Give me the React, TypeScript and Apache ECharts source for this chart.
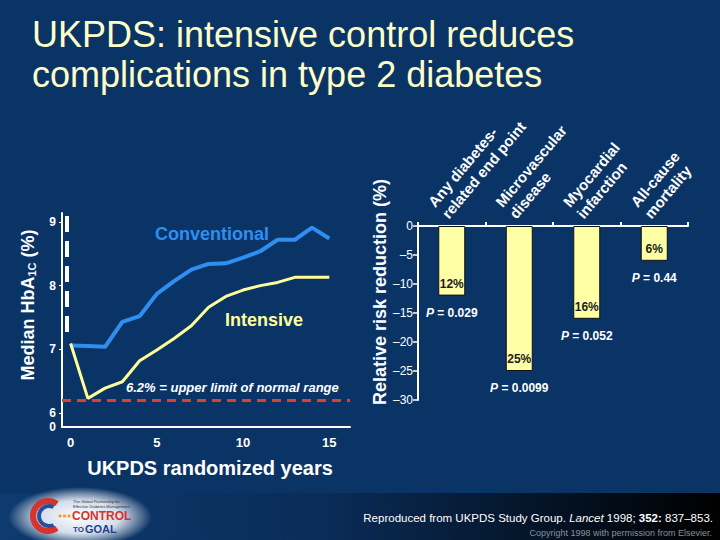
import React, { useEffect, useRef } from 'react';
import * as echarts from 'echarts';

// ---------- data ----------
const years = [0, 1, 2, 3, 4, 5, 6, 7, 8, 9, 10, 11, 12, 13, 14, 15];
const conventional = [7.06, 7.05, 7.04, 7.43, 7.52, 7.87, 8.07, 8.25, 8.34, 8.35, 8.44, 8.54, 8.72, 8.72, 8.91, 8.74];
const intensive = [7.09, 6.23, 6.39, 6.49, 6.82, 6.99, 7.17, 7.37, 7.66, 7.83, 7.93, 8.0, 8.05, 8.13, 8.13, 8.13];
const normalLimit = 6.2;
const leftYTicks = [6, 7, 8, 9];
const leftXTicks = [0, 5, 10, 15];

const outcomes = ['Any diabetes-\nrelated end point', 'Microvascular\ndisease', 'Myocardial\ninfarction', 'All-cause\nmortality'];
const riskReduction = [-12, -25, -16, -6];
const pValues = ['0.029', '0.0099', '0.052', '0.44'];

const FONT = 'Liberation Sans, Arial, Helvetica, sans-serif';

export default function App() {
  const ref = useRef<HTMLDivElement>(null);

  useEffect(() => {
    const chart = echarts.init(ref.current as HTMLDivElement, null, { renderer: 'svg' });
    const yMin = 5.78;

    const option: any = {
      animation: false,
      backgroundColor: '#0b3466',
      textStyle: { fontFamily: FONT },
      grid: [
        { left: 62, top: 213, width: 288, height: 214, containLabel: false },
        { left: 418, top: 226, width: 270, height: 174, containLabel: false },
      ],
      xAxis: [
        {
          gridIndex: 0,
          type: 'value',
          min: -0.5,
          max: 16.2,
          axisLine: { show: true, onZero: false, lineStyle: { color: '#ffffff', width: 2 } },
          axisTick: { show: false },
          splitLine: { show: false },
          axisLabel: {
            customValues: leftXTicks,
            color: '#ffffff',
            fontSize: 13,
            fontWeight: 'bold',
            fontFamily: FONT,
            margin: 9,
          },
        },
        {
          gridIndex: 1,
          type: 'category',
          position: 'top',
          data: outcomes,
          axisLine: { show: true, lineStyle: { color: '#ffffff', width: 2 } },
          axisTick: { show: true, length: 4, lineStyle: { color: '#ffffff', width: 2 } },
          splitLine: { show: false },
          axisLabel: {
            interval: 0,
            rotate: 50,
            color: '#ffffff',
            fontSize: 15,
            fontWeight: 'bold',
            fontFamily: FONT,
            lineHeight: 18,
            margin: 4,
            verticalAlign: 'bottom',
          },
        },
      ],
      yAxis: [
        {
          gridIndex: 0,
          type: 'value',
          min: yMin,
          max: 9.14,
          axisLine: { show: true, onZero: false, lineStyle: { color: '#ffffff', width: 2 } },
          axisTick: { show: true, customValues: leftYTicks, length: 3, lineStyle: { color: '#ffffff' } },
          splitLine: { show: false },
          axisLabel: {
            customValues: [yMin, ...leftYTicks],
            formatter: (v: number) => (v < 5.9 ? '0' : String(Math.round(v))),
            color: '#ffffff',
            fontSize: 12,
            fontWeight: 'bold',
            fontFamily: FONT,
            margin: 6,
          },
        },
        {
          gridIndex: 1,
          type: 'value',
          min: -30,
          max: 0,
          interval: 5,
          axisLine: { show: true, lineStyle: { color: '#ffffff', width: 2 } },
          axisTick: { show: true, length: 5, lineStyle: { color: '#ffffff', width: 1.5 } },
          splitLine: { show: false },
          axisLabel: {
            formatter: (v: number) => (v === 0 ? '0' : '\u2013' + Math.abs(v)),
            color: '#ffffff',
            fontSize: 12,
            fontFamily: FONT,
            margin: 5,
          },
        },
      ],
      series: [
        {
          name: 'Conventional',
          type: 'line',
          xAxisIndex: 0,
          yAxisIndex: 0,
          data: years.map((y, i) => [y, conventional[i]]),
          symbol: 'none',
          lineStyle: { color: '#2f8ef0', width: 4 },
          z: 3,
        },
        {
          name: 'Intensive',
          type: 'line',
          xAxisIndex: 0,
          yAxisIndex: 0,
          data: years.map((y, i) => [y, intensive[i]]),
          symbol: 'none',
          lineStyle: { color: '#ffff99', width: 3 },
          z: 3,
          markLine: {
            silent: true,
            symbol: ['none', 'none'],
            label: { show: false },
            lineStyle: { color: '#d8432c', type: [9, 6], width: 3 },
            data: [{ yAxis: normalLimit }],
          },
        },
        {
          name: 'Reduction',
          type: 'bar',
          xAxisIndex: 1,
          yAxisIndex: 1,
          data: riskReduction,
          barWidth: 27,
          itemStyle: { color: '#ffffa6', borderColor: '#111111', borderWidth: 1 },
          label: {
            show: true,
            position: 'insideBottom',
            distance: 6,
            formatter: (p: any) => Math.abs(p.value) + '%',
            color: '#1c1c1c',
            fontSize: 12,
            fontWeight: 'bold',
            fontFamily: FONT,
          },
          z: 3,
        },
        {
          name: 'P',
          type: 'bar',
          xAxisIndex: 1,
          yAxisIndex: 1,
          data: riskReduction,
          barWidth: 27,
          barGap: '-100%',
          silent: true,
          itemStyle: { color: 'rgba(0,0,0,0)' },
          label: {
            show: true,
            position: 'bottom',
            distance: 11,
            formatter: (p: any) => '{i|P} = ' + pValues[p.dataIndex],
            color: '#ffffff',
            fontSize: 12,
            fontWeight: 'bold',
            fontFamily: FONT,
            rich: {
              i: { fontStyle: 'italic', fontWeight: 'bold', fontSize: 12, color: '#ffffff', fontFamily: FONT },
            },
          },
          z: 2,
        },
      ],
      graphic: [
        // footer band
        {
          type: 'rect',
          z: -10,
          shape: { x: 0, y: 493, width: 720, height: 47 },
          style: {
            fill: {
              type: 'linear', x: 0, y: 0, x2: 1, y2: 0,
              colorStops: [
                { offset: 0, color: '#0d3a70' },
                { offset: 0.45, color: '#0a2c58' },
                { offset: 0.8, color: '#03101f' },
                { offset: 1, color: '#000000' },
              ],
            },
          },
        },
        // logo glow
        {
          type: 'ellipse',
          z: -5,
          shape: { cx: 80, cy: 517, rx: 72, ry: 30 },
          style: {
            fill: {
              type: 'radial', x: 0.5, y: 0.5, r: 0.5,
              colorStops: [
                { offset: 0, color: 'rgba(255,255,255,1)' },
                { offset: 0.55, color: 'rgba(235,240,250,0.9)' },
                { offset: 1, color: 'rgba(255,255,255,0)' },
              ],
            },
          },
        },
        {
          type: 'sector',
          z: -4,
          shape: { cx: 48, cy: 516, r0: 12, r: 18, startAngle: Math.PI * 0.3, endAngle: Math.PI * 1.7, clockwise: true },
          style: { fill: '#d6332d' },
        },
        {
          type: 'sector',
          z: -4,
          shape: { cx: 49, cy: 516, r0: 8, r: 12, startAngle: Math.PI * 0.35, endAngle: Math.PI * 1.65, clockwise: true },
          style: { fill: '#2a4d9a' },
        },
        { type: 'circle', z: -4, shape: { cx: 60, cy: 516, r: 1.6 }, style: { fill: '#f0a030' } },
        { type: 'circle', z: -4, shape: { cx: 64.5, cy: 516, r: 1.6 }, style: { fill: '#f0a030' } },
        { type: 'circle', z: -4, shape: { cx: 69, cy: 516, r: 1.6 }, style: { fill: '#f0a030' } },
        {
          type: 'text', z: -4, x: 73, y: 504,
          style: { text: 'The Global Partnership for\nEffective Diabetes Management', fill: '#333333', font: '4px ' + FONT, lineHeight: 4.5, textVerticalAlign: 'middle' },
        },
        {
          type: 'text', z: -4, x: 72, y: 515.5,
          style: { text: 'CONTROL', fill: '#d6332d', font: 'bold 12px ' + FONT, textVerticalAlign: 'middle' },
        },
        {
          type: 'text', z: -4, x: 73, y: 529,
          style: { text: 'TO', fill: '#1f3f8f', font: 'bold 8px ' + FONT, textVerticalAlign: 'middle' },
        },
        {
          type: 'text', z: -4, x: 85, y: 528.5,
          style: { text: 'GOAL', fill: '#1f3f8f', font: 'bold 11px ' + FONT, textVerticalAlign: 'middle' },
        },
        // title
        {
          type: 'text', x: 32, y: 34,
          style: { text: 'UKPDS: intensive control reduces', fill: '#ffffc8', font: '36px ' + FONT, textVerticalAlign: 'middle' },
        },
        {
          type: 'text', x: 32, y: 74,
          style: { text: 'complications in type 2 diabetes', fill: '#ffffc8', font: '36px ' + FONT, textVerticalAlign: 'middle' },
        },
        // left axis titles
        {
          type: 'text', x: 28, y: 305, rotation: Math.PI / 2,
          style: {
            text: 'Median HbA{s|1C} (%)',
            fill: '#ffffff',
            font: 'bold 18px ' + FONT,
            textAlign: 'center',
            textVerticalAlign: 'middle',
            rich: { s: { fontSize: 11, fontWeight: 'bold', fill: '#ffffff', fontFamily: FONT, verticalAlign: 'bottom' } },
          },
        },
        {
          type: 'text', x: 210, y: 468,
          style: { text: 'UKPDS randomized years', fill: '#ffffff', font: 'bold 20px ' + FONT, textAlign: 'center', textVerticalAlign: 'middle' },
        },
        // left annotations
        {
          type: 'text', x: 155, y: 234,
          style: { text: 'Conventional', fill: '#2f8ef0', font: 'bold 18px ' + FONT, textVerticalAlign: 'middle' },
        },
        {
          type: 'text', x: 225, y: 320,
          style: { text: 'Intensive', fill: '#ffff99', font: 'bold 18px ' + FONT, textVerticalAlign: 'middle' },
        },
        {
          type: 'text', x: 126, y: 387,
          style: { text: '6.2% = upper limit of normal range', fill: '#ffffff', font: 'italic bold 13px ' + FONT, textVerticalAlign: 'middle' },
        },
        // broken-axis dashed mark
        {
          type: 'line', z: 5,
          shape: { x1: 67, y1: 216, x2: 67, y2: 332 },
          style: { stroke: '#ffffff', lineWidth: 4, lineDash: [16, 9] },
        },
        // right axis title
        {
          type: 'text', x: 380, y: 292, rotation: Math.PI / 2,
          style: { text: 'Relative risk reduction (%)', fill: '#ffffff', font: 'bold 18px ' + FONT, textAlign: 'center', textVerticalAlign: 'middle' },
        },
        // footer texts
        {
          type: 'text', x: 713, y: 518,
          style: {
            text: 'Reproduced from UKPDS Study Group. {it|Lancet} 1998; {b|352:} 837\u2013853.',
            fill: '#ffffff',
            font: '11.5px ' + FONT,
            textAlign: 'right',
            textVerticalAlign: 'middle',
            rich: {
              it: { fontStyle: 'italic', fontSize: 11.5, fill: '#ffffff', fontFamily: FONT },
              b: { fontWeight: 'bold', fontSize: 11.5, fill: '#ffffff', fontFamily: FONT },
            },
          },
        },
        {
          type: 'text', x: 712, y: 533,
          style: { text: 'Copyright 1998 with permission from Elsevier.', fill: '#8a8f99', font: '9px ' + FONT, textAlign: 'right', textVerticalAlign: 'middle' },
        },
      ],
    };

    chart.setOption(option);
    return () => chart.dispose();
  }, []);

  return <div ref={ref} style={{ position: 'fixed', left: 0, top: 0, width: 720, height: 540 }} />;
}
